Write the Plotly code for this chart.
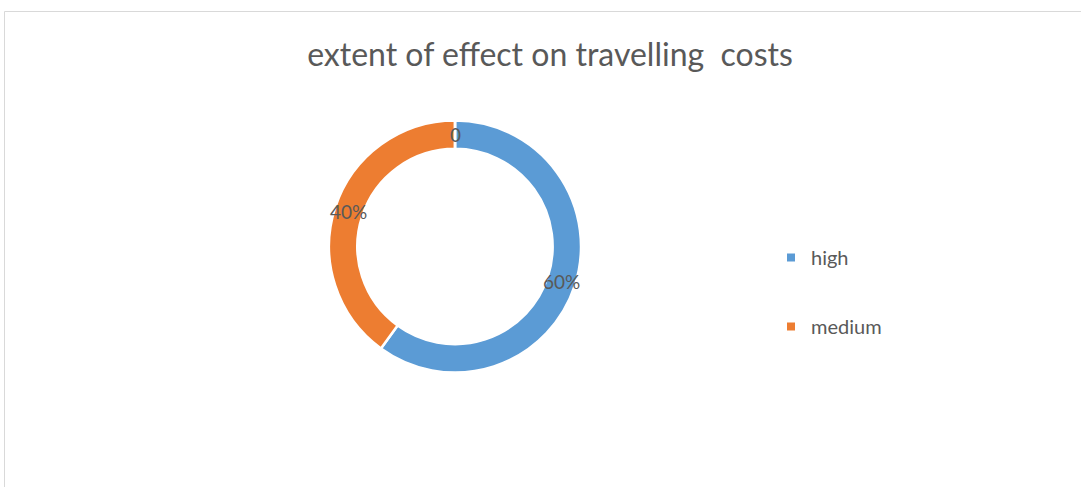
import math
import plotly.graph_objects as go

# Survey answers: share of respondents per level of effect
categories = ["high", "medium", ""]
values = [60, 40, 0]
colors = ["#5B9BD5", "#ED7D31", "#A5A5A5"]

title_text = "extent of effect on travelling  costs"
text_color = "#595959"
font_family = "Lato"

W, H = 1081, 487
HOLE = 0.775
DOMAIN_X = [329 / W, 581 / W]
DOMAIN_Y = [1 - 372.5 / H, 1 - 120.5 / H]

fig = go.Figure()

fig.add_trace(go.Pie(
    labels=categories,
    values=values,
    textinfo="none",
    marker=dict(colors=colors, line=dict(color="white", width=2.5)),
    hole=HOLE,
    sort=False,
    direction="clockwise",
    rotation=0,
    showlegend=False,
    hoverinfo="label+percent",
    domain=dict(x=DOMAIN_X, y=DOMAIN_Y),
))

# Data labels sit in the middle of the ring, at each slice's mid-angle
total = sum(values)
cx = (DOMAIN_X[0] + DOMAIN_X[1]) / 2 * W
cy = (1 - (DOMAIN_Y[0] + DOMAIN_Y[1]) / 2) * H
r_outer = min((DOMAIN_X[1] - DOMAIN_X[0]) * W, (DOMAIN_Y[1] - DOMAIN_Y[0]) * H) / 2
r_mid = r_outer * (1 + HOLE) / 2
annotations = []
start = 0.0
for v in values:
    share = v / total
    mid = 2 * math.pi * (start + share / 2)
    start += share
    px = cx + r_mid * math.sin(mid)
    py = cy - r_mid * math.cos(mid)
    label = f"{round(share * 100)}%" if v else f"{v}"
    annotations.append(dict(
        x=px / W, y=1 - py / H, xref="paper", yref="paper",
        text=label, showarrow=False, xanchor="center", yanchor="middle",
        font=dict(family=font_family, size=19, color=text_color),
    ))

# Legend entries (only the named categories)
for i, name in enumerate(categories):
    if not name:
        continue
    fig.add_trace(go.Scatter(
        x=[None], y=[None], mode="markers", name=name,
        legendgroup=name,
        marker=dict(symbol="square", size=8, color=colors[i]),
    ))

fig.update_layout(
    width=W, height=H,
    margin=dict(l=0, r=0, t=0, b=0),
    paper_bgcolor="white",
    plot_bgcolor="white",
    font=dict(family=font_family, color=text_color),
    title=dict(
        text=title_text,
        x=550 / W, xanchor="center",
        y=1 - 55 / H, yanchor="middle",
        font=dict(family=font_family, size=32, color=text_color),
    ),
    xaxis=dict(visible=False),
    yaxis=dict(visible=False),
    legend=dict(
        x=771 / W, xanchor="left",
        y=1 - 238 / H, yanchor="top",
        font=dict(family=font_family, size=20, color=text_color),
        tracegroupgap=40,
        itemwidth=30,
        bgcolor="rgba(0,0,0,0)",
    ),
    annotations=annotations,
    shapes=[
        dict(type="line", xref="paper", yref="paper",
             x0=4.5 / W, x1=1, y0=1 - 11.5 / H, y1=1 - 11.5 / H,
             line=dict(color="#D9D9D9", width=1)),
        dict(type="line", xref="paper", yref="paper",
             x0=4.5 / W, x1=4.5 / W, y0=1 - 11.5 / H, y1=0,
             line=dict(color="#D9D9D9", width=1)),
    ],
)

fig.write_html("out.html")
